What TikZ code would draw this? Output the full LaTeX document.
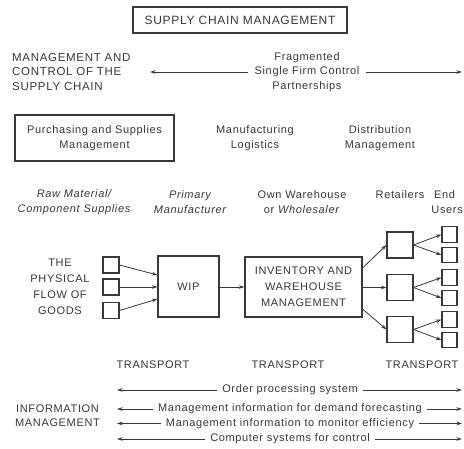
\documentclass[tikz,border=0pt]{standalone}
\usepackage{fontspec}
\setmainfont{Liberation Sans}[LetterSpace=6]
\usetikzlibrary{arrows.meta}
\definecolor{ink}{HTML}{383838}
\newcommand\fsz{\fontsize{11}{15}\selectfont}
\begin{document}
\begin{tikzpicture}[x=1pt,y=-1pt,
  every node/.style={text=ink, font=\fsz},
  box/.style={draw=ink, line width=1.1pt, inner sep=0pt},
  lbl/.style={align=center, inner sep=1pt},
  tag/.style={inner sep=5pt},
  arr/.style={draw=ink, line width=0.8pt, -{Stealth[length=5.5pt,width=3.5pt]}}]
\useasboundingbox[fill=white] (0,0) rectangle (464,448);

% title
\node[box, minimum width=214pt, minimum height=26pt, font=\fontsize{12}{15}\selectfont] (title) at (240,20) {SUPPLY CHAIN MANAGEMENT};

% management and control row
\node[lbl, anchor=west, align=left, font=\fontsize{11.5}{14.5}\selectfont] (mgmt) at (11,72) {MANAGEMENT AND\\CONTROL OF THE\\SUPPLY CHAIN};
\node[lbl, font=\fontsize{11}{14.5}\selectfont] (frag) at (307,72) {Fragmented\\Single Firm Control\\Partnerships};
\coordinate (fl) at (150,72);
\coordinate (fr) at (462,72);
\draw[arr] ([xshift=-5pt]frag.west) -- (fl);
\draw[arr] ([xshift=5pt]frag.east) -- (fr);

% management areas
\node[box, minimum width=159pt, minimum height=46pt, align=center] (purch) at (94.5,138) {Purchasing and Supplies\\Management};
\node[lbl] (manuf) at (255,138) {Manufacturing\\Logistics};
\node[lbl] (distr) at (380,138) {Distribution\\Management};

% chain members
\node[lbl, font=\fsz\itshape, align=center] (raw) at (74,202.5) {Raw Material/\\Component Supplies};
\node[lbl, font=\fsz\itshape, align=center] (prim) at (190,202.5) {Primary\\Manufacturer};
\node[lbl] (own) at (302,202.5) {Own Warehouse\\or \textit{Wholesaler}};
\node[lbl] (ret) at (400,195) {Retailers};
\node[lbl, anchor=west] (endt) at (433,195) {End};
\node[lbl, anchor=east] (users) at (464,210) {Users};

% physical flow
\node[lbl, font=\fontsize{11}{16}\selectfont] (flow) at (60,287) {THE\\PHYSICAL\\FLOW OF\\GOODS};
\node[box, minimum width=16pt, minimum height=16pt] (s1) at (111,265) {};
\node[box, minimum width=16pt, minimum height=16pt] (s2) at (111,287) {};
\node[box, minimum width=16pt, minimum height=16pt] (s3) at (111,310.5) {};
\node[box, minimum width=61pt, minimum height=61pt] (wip) at (188.5,286.5) {WIP};
\node[box, minimum width=117pt, minimum height=60pt, align=center, font=\fontsize{11}{16}\selectfont] (inv) at (303.5,287) {INVENTORY AND\\WAREHOUSE\\MANAGEMENT};
\draw[arr] (s1.east) -- (wip.west |- 0,275);
\draw[arr] (s2.east) -- (wip.west |- 0,287);
\draw[arr] (s3.east) -- (wip.west |- 0,299);
\draw[arr] (wip.east |- 0,287) -- (inv.west |- 0,287);

\node[box, minimum width=26pt, minimum height=26pt] (r1) at (400,245) {};
\node[box, minimum width=26pt, minimum height=26pt] (r2) at (400,287.5) {};
\node[box, minimum width=26pt, minimum height=26pt] (r3) at (400,329.5) {};
\draw[arr] (inv.east |- 0,268) -- (r1.west);
\draw[arr] (inv.east |- 0,287.5) -- (r2.west);
\draw[arr] (inv.east |- 0,309) -- (r3.west);

\node[box, minimum width=15pt, minimum height=15.5pt] (e1) at (449.5,234.5) {};
\node[box, minimum width=15pt, minimum height=15.5pt] (e2) at (449.5,255) {};
\node[box, minimum width=15pt, minimum height=15.5pt] (e3) at (449.5,277.5) {};
\node[box, minimum width=15pt, minimum height=15.5pt] (e4) at (449.5,298) {};
\node[box, minimum width=15pt, minimum height=15.5pt] (e5) at (449.5,319.5) {};
\node[box, minimum width=15pt, minimum height=15.5pt] (e6) at (449.5,340) {};
\draw[arr] (r1.east) -- (e1.west);
\draw[arr] (r1.east) -- (e2.west);
\draw[arr] (r2.east) -- (e3.west);
\draw[arr] (r2.east) -- (e4.west);
\draw[arr] (r3.east) -- (e5.west);
\draw[arr] (r3.east) -- (e6.west);

% transport
\node[lbl] (t1) at (153,365) {TRANSPORT};
\node[lbl] (t2) at (288,365) {TRANSPORT};
\node[lbl] (t3) at (422,365) {TRANSPORT};

% information management
\node[lbl, font=\fontsize{11}{14}\selectfont] (info) at (57.5,416) {INFORMATION\\MANAGEMENT};
\node[tag] (i1) at (290,390) {Order processing system};
\node[tag] (i2) at (290,409) {Management information for demand forecasting};
\node[tag] (i3) at (290,423.5) {Management information to monitor efficiency};
\node[tag] (i4) at (290,439) {Computer systems for control};
\coordinate (l1) at (117,390); \coordinate (r1e) at (462,390);
\coordinate (l2) at (117,409); \coordinate (r2e) at (462,409);
\coordinate (l3) at (117,423.5); \coordinate (r3e) at (462,423.5);
\coordinate (l4) at (117,439); \coordinate (r4e) at (462,439);
\draw[arr] (i1.west) -- (l1); \draw[arr] (i1.east) -- (r1e);
\draw[arr] (i2.west) -- (l2); \draw[arr] (i2.east) -- (r2e);
\draw[arr] (i3.west) -- (l3); \draw[arr] (i3.east) -- (r3e);
\draw[arr] (i4.west) -- (l4); \draw[arr] (i4.east) -- (r4e);
\end{tikzpicture}
\end{document}
